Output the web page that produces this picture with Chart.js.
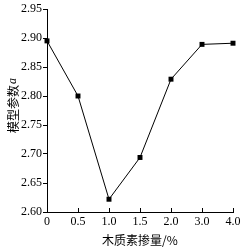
<!DOCTYPE html>
<html>
<head>
<meta charset="utf-8">
<script src="https://cdn.jsdelivr.net/npm/chart.js@4"></script>
<style>
    html, body { margin: 0; padding: 0; background: #fff; }
    #wrap { width: 252px; height: 248px; }
</style>
</head>
<body>
<div id="wrap"><canvas id="c" width="252" height="248"></canvas></div>
<script>
    var categories = ['0', '0.5', '1.0', '1.5', '2.0', '3.0', '4.0'];
    var paramA = [2.895, 2.800, 2.622, 2.694, 2.829, 2.889, 2.891];
    var yTicks = [2.60, 2.65, 2.70, 2.75, 2.80, 2.85, 2.90, 2.95];
    var yTitle = '模型参数';
    var yTitleVar = 'a';

    var serif = '"Liberation Serif", "Times New Roman", serif';
    var cjk = '"Noto Sans CJK SC", "Liberation Serif", serif';

    // x ticks point inward (upwards), y title has an italic symbol
    var extras = {
        id: 'extras',
        afterDraw: function (chart) {
            var ctx = chart.ctx;
            var x = chart.scales.x;
            var area = chart.chartArea;
            ctx.save();
            ctx.strokeStyle = '#000';
            ctx.lineWidth = 1;
            for (var i = 0; i < categories.length; i++) {
                var px = Math.round(x.getPixelForValue(i)) + 0.5;
                ctx.beginPath();
                ctx.moveTo(px, area.bottom);
                ctx.lineTo(px, area.bottom - 4);
                ctx.stroke();
            }

            ctx.fillStyle = '#000';
            ctx.textBaseline = 'middle';
            ctx.font = '12px ' + cjk;
            var w1 = ctx.measureText(yTitle).width;
            ctx.font = 'italic 12px ' + serif;
            var w2 = ctx.measureText(yTitleVar).width;
            var cy = (area.top + area.bottom) / 2 - 5;
            ctx.translate(13, cy);
            ctx.rotate(-Math.PI / 2);
            var start = -(w1 + w2 + 1) / 2;
            ctx.textAlign = 'left';
            ctx.font = '12px ' + cjk;
            ctx.fillText(yTitle, start, 0);
            ctx.font = 'italic 12px ' + serif;
            ctx.fillText(yTitleVar, start + w1 + 1, 0);
            ctx.restore();
        }
    };

    new Chart(document.getElementById('c'), {
        type: 'line',
        data: {
            labels: categories,
            datasets: [{
                data: paramA,
                borderColor: '#000',
                backgroundColor: '#000',
                borderWidth: 1,
                pointStyle: 'rect',
                pointRadius: 3.5,
                pointBorderWidth: 0,
                tension: 0
            }]
        },
        options: {
            responsive: false,
            animation: false,
            layout: { padding: { top: 9, right: 19, left: 0, bottom: 0 } },
            plugins: { legend: { display: false }, tooltip: { enabled: false } },
            scales: {
                x: {
                    offset: false,
                    grid: { display: false, drawTicks: false },
                    border: { color: '#000', width: 1 },
                    ticks: { color: '#000', font: { family: serif, size: 12 }, padding: 3, maxRotation: 0, autoSkip: false },
                    title: { display: true, text: '木质素掺量/%', color: '#000', font: { family: cjk, size: 12 }, padding: { top: 0, bottom: 0 } },
                    afterFit: function (s) { s.height = 36; }
                },
                y: {
                    min: 2.60,
                    max: 2.95,
                    afterBuildTicks: function (s) {
                        s.ticks = yTicks.map(function (v) { return { value: v }; });
                    },
                    grid: { drawOnChartArea: false, tickLength: 4, color: '#000' },
                    border: { color: '#000', width: 1 },
                    ticks: {
                        color: '#000',
                        font: { family: serif, size: 12 },
                        padding: 1,
                        callback: function (v) { return v.toFixed(2); }
                    },
                    title: { display: false },
                    afterFit: function (s) { s.width = 47; }
                }
            }
        },
        plugins: [extras]
    });
</script>
</body>
</html>
